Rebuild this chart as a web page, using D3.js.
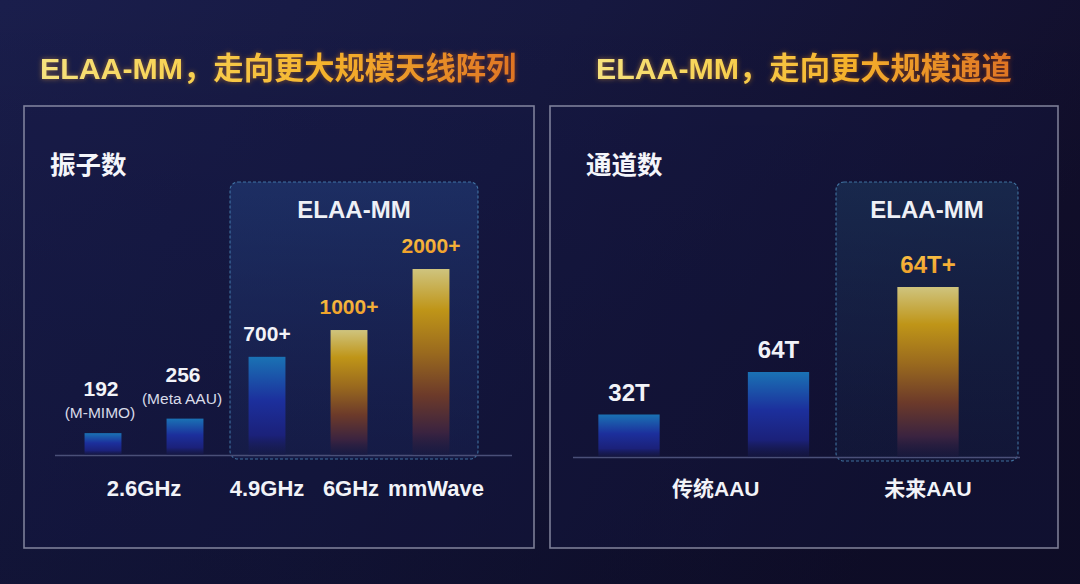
<!DOCTYPE html>
<html>
<head>
<meta charset="utf-8">
<script src="https://cdn.jsdelivr.net/npm/d3@7"></script>
<style>
  html, body { margin: 0; padding: 0; background: #14163a; }
  svg { display: block; }
</style>
</head>
<body>
<svg id="chart" width="1080" height="584"></svg>
<script>
// ---------------- DATA ----------------
const leftTitle = "ELAA-MM，走向更大规模天线阵列";
const rightTitle = "ELAA-MM，走向更大规模通道";
const leftMetric = "振子数";
const rightMetric = "通道数";
const highlightName = "ELAA-MM";

// left chart: antenna element counts
const leftIds = ["a", "b", "c", "d", "e"];
const leftValues = [192, 256, 700, 1000, 2000];
const leftValueLabels = ["192", "256", "700+", "1000+", "2000+"];
const leftNotes = ["(M-MIMO)", "(Meta AAU)", "", "", ""];
const leftBands = ["2.6GHz", "2.6GHz", "4.9GHz", "6GHz", "mmWave"];
const leftHighlight = [false, false, false, true, true];

// right chart: channel counts
const rightIds = ["a", "b", "c"];
const rightValues = [32, 64, 128];
const rightValueLabels = ["32T", "64T", "64T+"];
const rightBands = ["传统AAU", "传统AAU", "未来AAU"];
const rightHighlight = [false, false, true];

// ---------------- DRAW ----------------
const svg = d3.select("#chart");
const defs = svg.append("defs");
const LATIN = "'Liberation Sans', Arial, 'Noto Sans CJK SC', sans-serif";

// background
const bg = defs.append("linearGradient").attr("id", "bg").attr("x1", 0).attr("y1", 0).attr("x2", 1).attr("y2", 0.3);
bg.append("stop").attr("offset", 0).attr("stop-color", "#1a1e4c");
bg.append("stop").attr("offset", 0.5).attr("stop-color", "#161840");
bg.append("stop").attr("offset", 1).attr("stop-color", "#120f2c");
svg.append("rect").attr("width", 1080).attr("height", 584).attr("fill", "url(#bg)");
const bg2 = defs.append("linearGradient").attr("id", "bg2").attr("x1", 0).attr("y1", 0).attr("x2", 0).attr("y2", 1);
bg2.append("stop").attr("offset", 0).attr("stop-color", "#000010").attr("stop-opacity", 0);
bg2.append("stop").attr("offset", 1).attr("stop-color", "#06081c").attr("stop-opacity", 0.35);
svg.append("rect").attr("width", 1080).attr("height", 584).attr("fill", "url(#bg2)");

// title gradient
const tg = defs.append("linearGradient").attr("id", "titleGrad").attr("gradientUnits", "objectBoundingBox")
  .attr("x1", 0).attr("y1", 0).attr("x2", 1).attr("y2", 0);
tg.append("stop").attr("offset", 0).attr("stop-color", "#f6e27e");
tg.append("stop").attr("offset", 0.3).attr("stop-color", "#f8d252");
tg.append("stop").attr("offset", 0.6).attr("stop-color", "#f5b22c");
tg.append("stop").attr("offset", 1).attr("stop-color", "#df7424");

const glow = defs.append("filter").attr("id", "glow").attr("x", "-10%").attr("y", "-40%").attr("width", "120%").attr("height", "180%");
glow.append("feGaussianBlur").attr("in", "SourceGraphic").attr("stdDeviation", 2.5).attr("result", "b");
glow.append("feColorMatrix").attr("in", "b").attr("type", "matrix")
  .attr("values", "1 0 0 0 0.15  0 0.55 0 0 0  0 0 0.2 0 0  0 0 0 0.5 0").attr("result", "g");
const gm = glow.append("feMerge");
gm.append("feMergeNode").attr("in", "g");
gm.append("feMergeNode").attr("in", "SourceGraphic");

// bar gradients
const blue = defs.append("linearGradient").attr("id", "blueBar").attr("x1", 0).attr("y1", 0).attr("x2", 0).attr("y2", 1);
blue.append("stop").attr("offset", 0).attr("stop-color", "#1a72b4");
blue.append("stop").attr("offset", 0.45).attr("stop-color", "#1c2f9c");
blue.append("stop").attr("offset", 0.8).attr("stop-color", "#1b217a");
blue.append("stop").attr("offset", 1).attr("stop-color", "#171a4c").attr("stop-opacity", 0.4);

const gold = defs.append("linearGradient").attr("id", "goldBar").attr("x1", 0).attr("y1", 0).attr("x2", 0).attr("y2", 1);
gold.append("stop").attr("offset", 0).attr("stop-color", "#cfc47e");
gold.append("stop").attr("offset", 0.22).attr("stop-color", "#bf9518");
gold.append("stop").attr("offset", 0.45).attr("stop-color", "#9a6a1e");
gold.append("stop").attr("offset", 0.68).attr("stop-color", "#6c3a2a");
gold.append("stop").attr("offset", 0.88).attr("stop-color", "#3a2340");
gold.append("stop").attr("offset", 1).attr("stop-color", "#1c1a40").attr("stop-opacity", 0.5);

const orangeText = defs.append("linearGradient").attr("id", "orangeText").attr("x1", 0).attr("y1", 0).attr("x2", 0).attr("y2", 1);
orangeText.append("stop").attr("offset", 0).attr("stop-color", "#f9c44a");
orangeText.append("stop").attr("offset", 1).attr("stop-color", "#ee9a24");

const boxGrad = defs.append("linearGradient").attr("id", "boxGrad").attr("x1", 0).attr("y1", 0).attr("x2", 0).attr("y2", 1);
boxGrad.append("stop").attr("offset", 0).attr("stop-color", "#23407e").attr("stop-opacity", 0.55);
boxGrad.append("stop").attr("offset", 1).attr("stop-color", "#1d2e66").attr("stop-opacity", 0.25);
const boxGrad2 = defs.append("linearGradient").attr("id", "boxGrad2").attr("x1", 0).attr("y1", 0).attr("x2", 0).attr("y2", 1);
boxGrad2.append("stop").attr("offset", 0).attr("stop-color", "#1e3d62").attr("stop-opacity", 0.5);
boxGrad2.append("stop").attr("offset", 1).attr("stop-color", "#182c50").attr("stop-opacity", 0.2);

function panel(cfg) {
  const g = svg.append("g");
  // panel frame
  g.append("rect").attr("x", cfg.x0).attr("y", 106).attr("width", cfg.x1 - cfg.x0).attr("height", 442)
    .attr("fill", "#181c4a").attr("fill-opacity", 0.3)
    .attr("stroke", "#a9adc2").attr("stroke-opacity", 0.7).attr("stroke-width", 1.6);
  // title
  g.append("text").attr("x", cfg.titleX).attr("y", 79).text(cfg.title)
    .attr("font-family", LATIN).attr("font-weight", 700).attr("font-size", 30.3)
    .attr("fill", "url(#titleGrad)").attr("filter", "url(#glow)");
  // metric label
  g.append("text").attr("x", cfg.metricX).attr("y", 174).text(cfg.metric)
    .attr("font-family", "'Noto Sans CJK SC', sans-serif").attr("font-weight", 700).attr("font-size", 25.5)
    .attr("fill", "#f4f5fa");

  const x = d3.scalePoint().domain(cfg.ids).range(cfg.xRange);
  const bw = x.step() * cfg.bwFrac;
  const y = cfg.y;
  const base = y.range()[0];

  // highlight box (ELAA-MM)
  const hiIdx = cfg.highlight.map((h, i) => h ? i : -1).filter(i => i >= 0);
  const bx0 = x(cfg.ids[cfg.boxFrom]) - cfg.boxPadL;
  const bx1 = x(cfg.ids[hiIdx[hiIdx.length - 1]]) + cfg.boxPadR;
  g.append("rect").attr("x", bx0).attr("y", 182).attr("width", bx1 - bx0).attr("height", base + 4 - 182)
    .attr("rx", 8).attr("fill", cfg.boxFill)
    .attr("stroke", "#4f8fc0").attr("stroke-opacity", 0.75).attr("stroke-width", 1.1).attr("stroke-dasharray", "3,2");
  g.append("text").attr("x", (bx0 + bx1) / 2).attr("y", 218).attr("text-anchor", "middle")
    .text(highlightName).attr("font-family", LATIN).attr("font-weight", 700).attr("font-size", 24)
    .attr("fill", "#eef0f6");

  // baseline
  g.append("line").attr("x1", cfg.baseX[0]).attr("x2", cfg.baseX[1]).attr("y1", base + 0.5).attr("y2", base + 0.5)
    .attr("stroke", "#4a4f78").attr("stroke-width", 1.5);

  // bars
  g.selectAll("rect.bar").data(cfg.values).join("rect").attr("class", "bar")
    .attr("x", (d, i) => x(cfg.ids[i]) - bw / 2).attr("width", bw)
    .attr("y", d => y(d)).attr("height", d => base - y(d))
    .attr("fill", (d, i) => cfg.highlight[i] ? "url(#goldBar)" : "url(#blueBar)");

  // value labels
  g.selectAll("text.val").data(cfg.values).join("text").attr("class", "val")
    .attr("x", (d, i) => x(cfg.ids[i]) + (cfg.notes && cfg.notes[i] ? -2 : 0))
    .attr("y", (d, i) => y(d) - (cfg.notes && cfg.notes[i] ? cfg.noteGap + 22 : cfg.valGap))
    .attr("text-anchor", "middle").text((d, i) => cfg.valueLabels[i])
    .attr("font-family", LATIN).attr("font-weight", 700).attr("font-size", cfg.valSize)
    .attr("fill", (d, i) => cfg.highlight[i] ? "url(#orangeText)" : "#f2f3f8");

  if (cfg.notes) {
    g.selectAll("text.note").data(cfg.values).join("text").attr("class", "note")
      .attr("x", (d, i) => x(cfg.ids[i]) - 3)
      .attr("y", d => y(d) - cfg.noteGap)
      .attr("text-anchor", "middle").text((d, i) => cfg.notes[i])
      .attr("font-family", LATIN).attr("font-size", 15.5).attr("fill", "#d8dbe8");
  }

  // category labels, centred on their bars
  const cats = Array.from(new Set(cfg.bands));
  g.selectAll("text.cat").data(cats).join("text").attr("class", "cat")
    .attr("x", c => d3.mean(cfg.ids.filter((id, i) => cfg.bands[i] === c), id => x(id)) + (cfg.catShift[c] || 0))
    .attr("y", 496).attr("text-anchor", "middle").text(c => c)
    .attr("font-family", LATIN).attr("font-weight", 700).attr("font-size", cfg.catSize)
    .attr("fill", "#f2f3f8");
}

panel({
  x0: 24, x1: 534, titleX: 40, title: leftTitle, metric: leftMetric, metricX: 50,
  ids: leftIds, values: leftValues, valueLabels: leftValueLabels, notes: leftNotes,
  bands: leftBands, highlight: leftHighlight,
  xRange: [103, 431], bwFrac: 0.45,
  y: d3.scalePow().exponent(0.3).domain([118, 2000]).range([455, 269]),
  boxFrom: 2, boxPadL: 37, boxPadR: 47, boxFill: "url(#boxGrad)",
  baseX: [55, 512], valGap: 16, noteGap: 15, valSize: 21, catSize: 22,
  catShift: { "6GHz": 2, "mmWave": 5 }
});

panel({
  x0: 550, x1: 1058, titleX: 596, title: rightTitle, metric: rightMetric, metricX: 586,
  ids: rightIds, values: rightValues, valueLabels: rightValueLabels, notes: null,
  bands: rightBands, highlight: rightHighlight,
  xRange: [629, 928], bwFrac: 0.41,
  y: d3.scaleLinear().domain([0, 128]).range([457, 287]),
  boxFrom: 2, boxPadL: 92, boxPadR: 90, boxFill: "url(#boxGrad2)",
  baseX: [573, 1020], valGap: 14, noteGap: 0, valSize: 24, catSize: 21,
  catShift: { "传统AAU": 12 }
});
</script>
</body>
</html>
